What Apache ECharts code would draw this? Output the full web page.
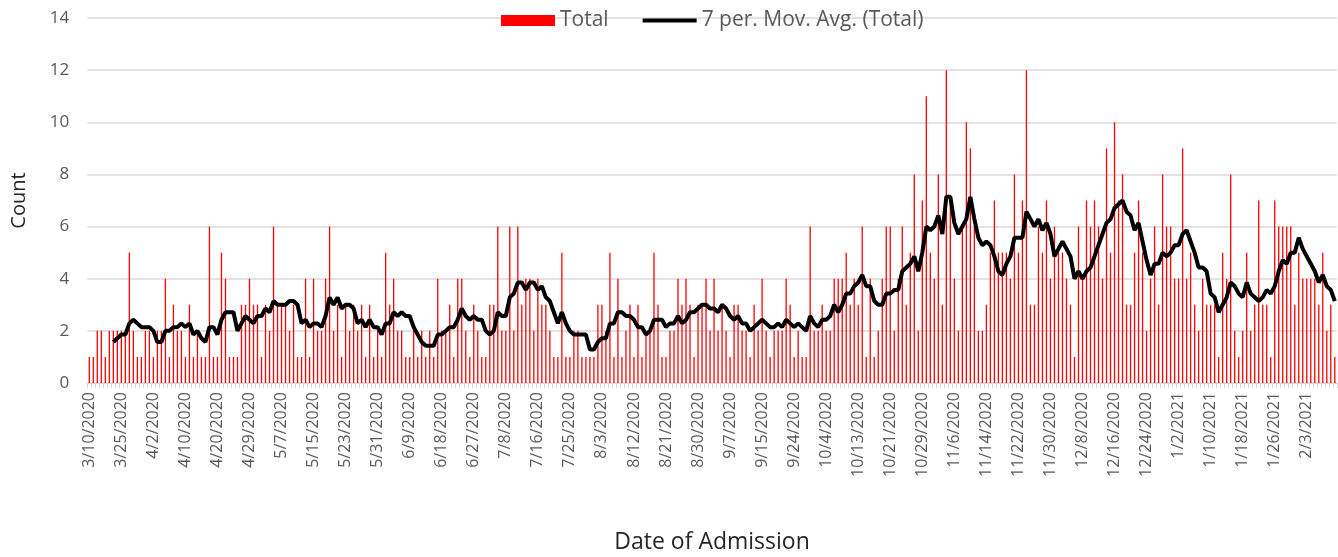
<!DOCTYPE html>
<html>
<head>
<meta charset="utf-8">
<script src="https://cdn.jsdelivr.net/npm/echarts@6/dist/echarts.min.js"></script>
<style>
html,body{margin:0;padding:0;background:#fff;}
#chart{width:1338px;height:557px;}
</style>
</head>
<body>
<div id="chart"></div>
<script>
// Category dates (days with admissions)
const dates = `
3/10/2020 3/12/2020 3/14/2020 3/16/2020 3/18/2020 3/20/2020 3/22/2020 3/24/2020
3/25/2020 3/26/2020 3/27/2020 3/28/2020 3/29/2020 3/30/2020 3/31/2020 4/1/2020
4/2/2020 4/3/2020 4/4/2020 4/5/2020 4/6/2020 4/7/2020 4/8/2020 4/9/2020
4/10/2020 4/11/2020 4/13/2020 4/14/2020 4/15/2020 4/17/2020 4/18/2020 4/19/2020
4/20/2020 4/21/2020 4/22/2020 4/23/2020 4/24/2020 4/25/2020 4/27/2020 4/28/2020
4/29/2020 4/30/2020 5/1/2020 5/2/2020 5/3/2020 5/4/2020 5/5/2020 5/6/2020
5/7/2020 5/8/2020 5/9/2020 5/10/2020 5/11/2020 5/12/2020 5/13/2020 5/14/2020
5/15/2020 5/16/2020 5/17/2020 5/18/2020 5/19/2020 5/20/2020 5/21/2020 5/22/2020
5/23/2020 5/24/2020 5/25/2020 5/26/2020 5/27/2020 5/28/2020 5/29/2020 5/30/2020
5/31/2020 6/1/2020 6/2/2020 6/3/2020 6/4/2020 6/5/2020 6/6/2020 6/8/2020
6/9/2020 6/10/2020 6/11/2020 6/12/2020 6/13/2020 6/15/2020 6/16/2020 6/17/2020
6/18/2020 6/19/2020 6/20/2020 6/22/2020 6/23/2020 6/24/2020 6/25/2020 6/26/2020
6/27/2020 6/28/2020 6/29/2020 6/30/2020 7/1/2020 7/2/2020 7/6/2020 7/7/2020
7/8/2020 7/9/2020 7/10/2020 7/11/2020 7/12/2020 7/13/2020 7/14/2020 7/15/2020
7/16/2020 7/17/2020 7/18/2020 7/20/2020 7/21/2020 7/22/2020 7/23/2020 7/24/2020
7/25/2020 7/27/2020 7/28/2020 7/29/2020 7/30/2020 7/31/2020 8/1/2020 8/2/2020
8/3/2020 8/4/2020 8/5/2020 8/6/2020 8/7/2020 8/8/2020 8/10/2020 8/11/2020
8/12/2020 8/13/2020 8/14/2020 8/15/2020 8/17/2020 8/18/2020 8/19/2020 8/20/2020
8/21/2020 8/22/2020 8/24/2020 8/25/2020 8/26/2020 8/27/2020 8/28/2020 8/29/2020
8/30/2020 8/31/2020 9/1/2020 9/2/2020 9/3/2020 9/4/2020 9/5/2020 9/6/2020
9/7/2020 9/8/2020 9/9/2020 9/10/2020 9/11/2020 9/12/2020 9/13/2020 9/14/2020
9/15/2020 9/16/2020 9/17/2020 9/18/2020 9/19/2020 9/21/2020 9/22/2020 9/23/2020
9/24/2020 9/25/2020 9/26/2020 9/28/2020 9/29/2020 9/30/2020 10/1/2020 10/2/2020
10/4/2020 10/5/2020 10/6/2020 10/7/2020 10/8/2020 10/9/2020 10/10/2020 10/12/2020
10/13/2020 10/14/2020 10/15/2020 10/16/2020 10/17/2020 10/18/2020 10/19/2020 10/20/2020
10/21/2020 10/22/2020 10/23/2020 10/24/2020 10/25/2020 10/26/2020 10/27/2020 10/28/2020
10/29/2020 10/30/2020 10/31/2020 11/1/2020 11/2/2020 11/3/2020 11/4/2020 11/5/2020
11/6/2020 11/7/2020 11/8/2020 11/9/2020 11/10/2020 11/11/2020 11/12/2020 11/13/2020
11/14/2020 11/15/2020 11/16/2020 11/17/2020 11/18/2020 11/19/2020 11/20/2020 11/21/2020
11/22/2020 11/23/2020 11/24/2020 11/25/2020 11/26/2020 11/27/2020 11/28/2020 11/29/2020
11/30/2020 12/1/2020 12/2/2020 12/3/2020 12/4/2020 12/5/2020 12/6/2020 12/7/2020
12/8/2020 12/9/2020 12/10/2020 12/11/2020 12/12/2020 12/13/2020 12/14/2020 12/15/2020
12/16/2020 12/17/2020 12/18/2020 12/19/2020 12/20/2020 12/21/2020 12/22/2020 12/23/2020
12/24/2020 12/26/2020 12/27/2020 12/28/2020 12/29/2020 12/30/2020 12/31/2020 1/1/2021
1/2/2021 1/3/2021 1/4/2021 1/5/2021 1/6/2021 1/7/2021 1/8/2021 1/9/2021
1/10/2021 1/11/2021 1/12/2021 1/13/2021 1/14/2021 1/15/2021 1/16/2021 1/17/2021
1/18/2021 1/19/2021 1/20/2021 1/21/2021 1/22/2021 1/23/2021 1/24/2021 1/25/2021
1/26/2021 1/27/2021 1/28/2021 1/29/2021 1/30/2021 1/31/2021 2/1/2021 2/2/2021
2/3/2021 2/4/2021 2/5/2021 2/6/2021 2/7/2021 2/8/2021 2/9/2021 2/10/2021
`.trim().split(/\s+/);

// Daily admissions (Total)
const totals = [
1,1,2,2,1,2,2,2,2,2,5,2,1,1,2,2,1,2,2,4,1,3,2,2,1,3,
1,2,1,1,6,1,1,5,4,1,1,1,3,3,4,3,3,1,3,2,6,3,3,3,2,3,
1,1,4,1,4,2,2,4,6,2,3,1,3,2,3,2,3,1,3,1,2,1,5,3,4,2,
2,1,1,2,1,2,1,2,1,4,2,2,3,1,4,4,2,1,3,2,1,1,3,3,6,2,
2,6,2,6,3,4,4,2,4,3,3,2,1,1,5,1,1,2,2,1,1,1,1,3,3,2,
5,1,4,1,2,3,1,3,1,2,2,5,3,1,1,2,2,4,3,4,3,1,3,3,4,2,
4,2,3,2,1,3,3,2,2,1,3,2,4,2,1,2,2,2,4,3,1,2,1,1,6,2,
2,3,2,2,4,4,4,5,3,4,3,6,1,4,1,2,4,6,6,2,4,6,3,5,8,2,
7,11,5,4,8,3,12,7,4,2,6,10,9,6,2,2,3,5,7,5,5,5,4,8,5,7,
12,3,3,6,5,7,4,6,5,5,4,3,1,6,4,7,6,7,6,4,9,5,10,7,8,3,
3,5,7,5,2,4,6,3,8,6,6,4,4,9,4,5,3,2,4,3,3,3,1,5,4,8,
2,1,2,5,2,3,7,3,3,1,7,6,6,6,6,3,5,4,4,4,4,3,5,2,3,1
];

const yTicks = [0, 2, 4, 6, 8, 10, 12, 14];
const period = 7;

// 7-period moving average trendline (as Excel computes it)
const movAvg = totals.map((v, i) => {
  if (i < period - 1) return null;
  let s = 0;
  for (let k = i - period + 1; k <= i; k++) s += totals[k];
  return s / period;
});

const FONT = 'Open Sans';
const chart = echarts.init(document.getElementById('chart'), null, {renderer: 'canvas'});
chart.setOption({
  animation: false,
  backgroundColor: '#ffffff',
  textStyle: {fontFamily: FONT},
  legend: {
    top: 5,
    left: 496,
    itemWidth: 54,
    itemHeight: 11,
    itemGap: 32,
    textStyle: {fontFamily: FONT, fontSize: 21, color: '#595959'},
    data: [
      {name: 'Total', icon: 'rect'},
      {name: '7 per. Mov. Avg. (Total)', itemStyle: {opacity: 0}, lineStyle: {width: 4, color: '#000000'}}
    ]
  },
  grid: {left: 87.3, right: 1.2, top: 18, bottom: 174, containLabel: false, outerBoundsMode: 'none'},
  xAxis: {
    type: 'category',
    data: dates,
    boundaryGap: true,
    name: 'Date of Admission',
    nameLocation: 'middle',
    nameGap: 148,
    nameTextStyle: {fontFamily: FONT, fontSize: 23, color: '#262626'},
    axisLine: {show: true, lineStyle: {color: '#d9d9d9', width: 1}},
    axisTick: {show: true, interval: 0, length: 5, lineStyle: {color: '#d9d9d9'}},
    axisLabel: {
      interval: 7,
      rotate: 90,
      margin: 9,
      fontFamily: FONT,
      fontSize: 16,
      color: '#595959'
    },
    splitLine: {show: false}
  },
  yAxis: {
    type: 'value',
    min: yTicks[0],
    max: yTicks[yTicks.length - 1],
    interval: 2,
    name: 'Count',
    nameLocation: 'middle',
    nameRotate: 90,
    nameGap: 58,
    nameTextStyle: {fontFamily: FONT, fontSize: 20, color: '#262626'},
    axisLine: {show: false},
    axisTick: {show: false},
    axisLabel: {margin: 18, fontFamily: FONT, fontSize: 17, color: '#595959'},
    splitLine: {lineStyle: {color: '#d9d9d9', width: 1.5}}
  },
  series: [
    {
      name: 'Total',
      type: 'bar',
      data: totals,
      barWidth: 1.3,
      itemStyle: {color: '#ff0000'},
      z: 2
    },
    {
      name: '7 per. Mov. Avg. (Total)',
      type: 'line',
      data: movAvg,
      symbol: 'none',
      showSymbol: false,
      connectNulls: false,
      lineStyle: {color: '#000000', width: 4},
      itemStyle: {color: '#000000'},
      z: 3
    }
  ]
});
</script>
</body>
</html>
